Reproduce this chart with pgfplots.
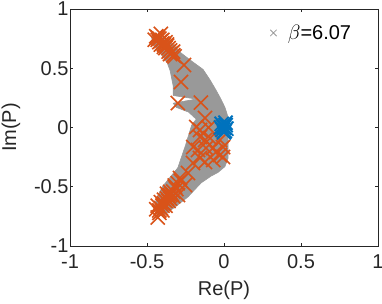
\documentclass[border=0pt]{standalone}
\usepackage{pgfplots}
\pgfplotsset{compat=1.18}
\usepackage{fontspec}
\setmainfont{Liberation Sans}
\definecolor{mgray}{rgb}{0.6,0.6,0.6}
\definecolor{morange}{rgb}{0.85,0.325,0.098}
\definecolor{mblue}{rgb}{0,0.447,0.741}
\definecolor{axc}{rgb}{0.15,0.15,0.15}
\begin{document}
\begin{tikzpicture}
\begin{axis}[
  name=ax,
  scale only axis, width=308pt, height=237pt,
  xmin=-1, xmax=1, ymin=-1, ymax=1,
  xtick={-1,-0.5,0,0.5,1}, ytick={-1,-0.5,0,0.5,1},
  tick align=inside, major tick length=3pt,
  axis line style={axc, line width=0.5pt},
  tick style={axc, line width=0.5pt},
  font=\fontsize{20}{23}\selectfont,
  /pgf/number format/assume math mode=true,
  ticklabel style={text=axc},
  xticklabel style={yshift=-5pt},
  yticklabel style={xshift=2pt},
  every axis x label/.style={at={(axis description cs:0.5,-0.186)}, anchor=center, text=axc},
  every axis y label/.style={at={(axis description cs:-0.192,0.5)}, rotate=90, anchor=center, text=axc},
  xlabel={Re(P)}, ylabel={Im(P)},
  legend style={draw=none, fill=none, at={(axis description cs:0.623,0.899)}, anchor=west, font=\fontsize{20}{23}\selectfont},
  legend cell align=left,
  legend image code/.code={\path (0pt,0pt) (20pt,0pt); \draw[#1] plot coordinates {(8pt,0pt)};},
]
% grey band (filled region formed by dense grey markers)
\addplot[fill=mgray, draw=mgray, line width=0.6pt, line join=round, forget plot] coordinates {
(-0.44,0.78) (-0.38,0.75) (-0.33,0.70) (-0.28,0.63) (-0.21,0.56) (-0.136,0.49) (-0.09,0.40)
(-0.052,0.316) (-0.02,0.24) (0.006,0.17) (0.026,0.09) (0.03,0.0) (0.026,-0.09) (0.026,-0.26)
(0.006,-0.33) (-0.04,-0.38) (-0.084,-0.41) (-0.149,-0.468) (-0.234,-0.586) (-0.318,-0.671)
(-0.38,-0.73) (-0.43,-0.75) (-0.45,-0.68) (-0.44,-0.60) (-0.40,-0.50) (-0.35,-0.42) (-0.30,-0.34)
(-0.25,-0.15) (-0.21,0.02) (-0.18,0.07) (-0.23,0.13) (-0.31,0.17) (-0.33,0.205) (-0.18,0.24)
(-0.33,0.27) (-0.33,0.35) (-0.35,0.48) (-0.37,0.55) (-0.41,0.62) (-0.46,0.70) (-0.47,0.76) (-0.44,0.78)
};
% grey markers
\addplot[only marks, mark=x, mark size=4.5pt, mgray, line width=0.8pt] coordinates {
(-0.40,0.70) (-0.33,0.62) (-0.28,0.55) (-0.24,0.48) (-0.20,0.41) (-0.17,0.34) (-0.13,0.28)
(-0.10,0.21) (-0.07,0.14) (-0.04,0.07) (-0.08,0.02) (-0.05,-0.05) (-0.08,-0.12) (-0.10,-0.20)
(-0.14,-0.28) (-0.19,-0.36) (-0.24,-0.44) (-0.29,-0.52) (-0.34,-0.60) (-0.39,-0.67)
(-0.22,0.17) (-0.12,0.12)
};
\addlegendentry{$\beta$=6.07}
% orange markers
\addplot[only marks, mark=x, mark size=10pt, morange, line width=1.6pt, forget plot] coordinates {
(-0.44,0.77) (-0.43,0.76) (-0.42,0.75) (-0.43,0.74) (-0.41,0.73) (-0.40,0.74) (-0.42,0.72)
(-0.40,0.71) (-0.39,0.70) (-0.38,0.72) (-0.41,0.70) (-0.37,0.69) (-0.38,0.67) (-0.36,0.67)
(-0.39,0.68) (-0.35,0.65) (-0.36,0.64) (-0.34,0.63) (-0.33,0.61) (-0.35,0.62) (-0.41,0.79)
(-0.45,0.74) (-0.37,0.70) (-0.33,0.64) (-0.32,0.60)
(-0.26,0.527) (-0.279,0.384) (-0.30,0.206) (-0.15,0.21) (-0.123,0.080) (-0.156,-0.021)
(-0.18,0.004) (-0.10,0.0) (-0.156,-0.08) (-0.09,-0.09) (-0.026,-0.105) (-0.20,-0.165)
(-0.117,-0.173) (-0.052,-0.207) (-0.006,-0.165) (-0.156,-0.257) (-0.07,-0.274) (-0.006,-0.249)
(-0.123,-0.105) (-0.071,-0.173) (-0.169,-0.19) (-0.026,-0.232) (-0.123,-0.291) (-0.201,-0.30)
(-0.234,-0.384) (-0.286,-0.426) (-0.253,-0.485) (-0.318,-0.502) (-0.35,-0.544) (-0.299,-0.57)
(-0.42,-0.70) (-0.41,-0.68) (-0.43,-0.66) (-0.40,-0.66) (-0.39,-0.64) (-0.41,-0.63) (-0.38,-0.62)
(-0.37,-0.60) (-0.39,-0.61) (-0.36,-0.58) (-0.35,-0.60) (-0.37,-0.56) (-0.34,-0.56) (-0.33,-0.54)
(-0.42,-0.72) (-0.40,-0.70) (-0.38,-0.66) (-0.36,-0.62) (-0.35,-0.57) (-0.33,-0.58) (-0.44,-0.69)
(-0.31,-0.52) (-0.32,-0.49) (-0.30,-0.47) (-0.28,-0.45) (-0.43,-0.76)
};
% blue markers
\addplot[only marks, mark=x, mark size=10pt, mblue, line width=1.9pt, forget plot] coordinates {
(0,0) (0.01,0.02) (-0.01,-0.02) (0.005,-0.03) (-0.015,0.03) (0.01,0.04) (-0.005,0.01)
(0.015,-0.01) (-0.02,0.0) (0,-0.04)
};
\end{axis}
\pgfresetboundingbox
\path ([shift={(-70pt,-58pt)}]ax.south west) rectangle ([shift={(4pt,9pt)}]ax.north east);
\end{tikzpicture}
\end{document}
